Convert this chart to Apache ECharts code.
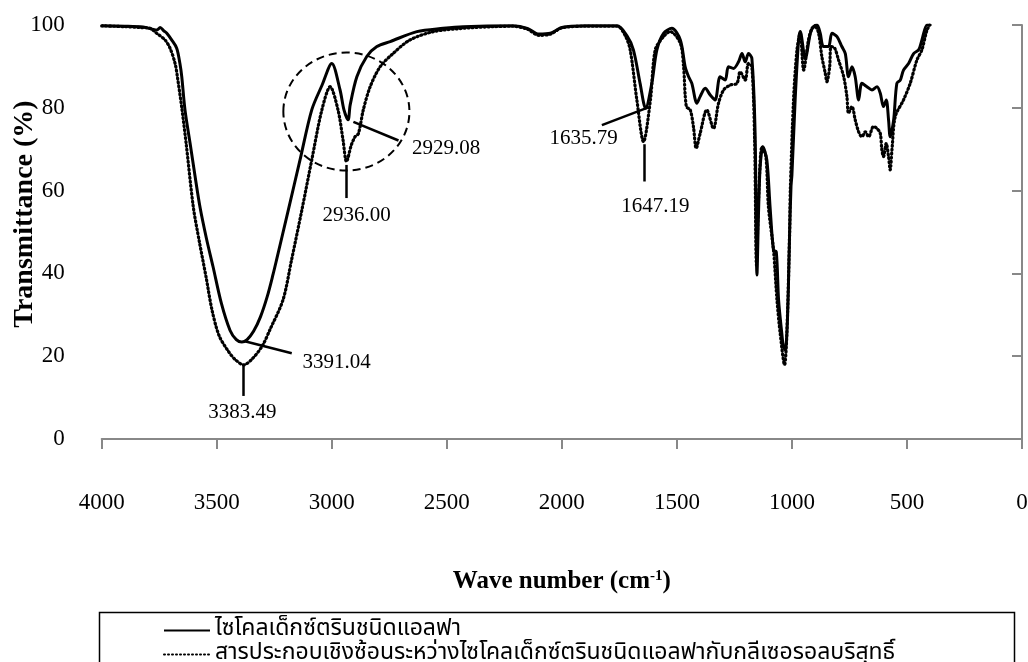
<!DOCTYPE html>
<html>
<head>
<meta charset="utf-8">
<script src="https://cdn.jsdelivr.net/npm/echarts@6/dist/echarts.min.js"></script>
<style>html,body{margin:0;padding:0;background:#fff;}#c{width:1028px;height:662px;}</style>
</head>
<body>
<div id="c"></div>
<script>
// ---- data (wave number cm-1, transmittance %) ----
const solidName = 'ไซโคลเด็กซ์ตรินชนิดแอลฟา';
const dottedName = 'สารประกอบเชิงซ้อนระหว่างไซโคลเด็กซ์ตรินชนิดแอลฟากับกลีเซอรอลบริสุทธิ์';

const solidWn = [4000,3900,3820,3780,3760,3746,3730,3717,3696,3674,3660,3652,3638,3616,3594,3573,3545,3516,3480,3442,3415,3391,3368,3340,3310,3280,3255,3239,3189,3138,3087,3042,3000,2964,2947,2929,2920,2891,2848,2804,2746,2630,2516,2429,2212,2150,2100,2050,2000,1900,1760,1718,1689,1660,1636,1609,1587,1558,1522,1485,1464,1449,1435,1413,1399,1377,1355,1334,1312,1290,1276,1254,1232,1217,1203,1189,1174,1160,1152,1145,1138,1126,1109,1095,1080,1068,1058,1044,1037,1029,1019,1010,1004,1000,986,971,964,942,920,906,891,877,863,841,826,804,783,768,754,739,725,710,696,674,652,630,616,602,590,580,573,558,544,529,515,493,471,449,435,413,400];
const solidT  = [99.8,99.7,99.5,99.0,98.8,99.4,98.6,98.0,96.4,94.4,90.7,87.5,79.5,71.5,63.4,56.1,48.5,41.6,32.8,26.2,24.0,23.4,24.0,26.0,29.5,34.5,39.8,43.5,55.3,67.4,79.5,85.5,90.7,84.3,79.5,77.1,80.7,87.5,92.4,94.8,96.0,98.4,99.2,99.6,99.8,99.2,97.8,98.0,99.4,99.8,99.8,97.5,94.0,85.9,79.9,85.9,94.0,98.0,99.2,96.4,89.9,87.5,85.9,81.1,82.7,84.7,83.1,81.9,87.5,86.7,89.9,89.5,91.1,93.1,91.1,93.1,91.9,73.8,39.6,55.0,65.8,70.6,67.4,56.1,45.6,45.2,33.6,25.5,22.3,21.5,29.5,49.7,61.0,63.8,81.9,96.4,98.4,91.9,98.0,99.6,100,98.0,94.8,94.8,98.0,97.2,94.8,93.1,87.5,89.9,87.5,81.9,85.9,85.1,84.3,85.1,83.5,80.3,81.9,77.1,73.0,77.0,85.9,86.7,89.1,90.7,93.1,94.0,96.4,100,100];

const dottedWn = [4000,3900,3833,3790,3761,3725,3703,3681,3671,3652,3633,3602,3575,3546,3520,3490,3451,3420,3383,3345,3302,3268,3212,3175,3130,3087,3043,3007,2973,2951,2936,2915,2899,2884,2863,2833,2790,2732,2660,2558,2429,2300,2212,2150,2100,2050,2000,1900,1760,1725,1703,1674,1645,1615,1594,1558,1529,1485,1471,1459,1442,1428,1416,1399,1370,1341,1319,1297,1268,1239,1225,1203,1189,1174,1162,1154,1145,1130,1113,1102,1080,1065,1051,1032,1022,1010,1007,993,978,964,949,928,913,899,884,870,855,848,836,830,815,797,775,761,754,739,725,710,696,681,667,645,630,616,609,602,590,580,573,565,551,515,486,457,435,413,400];
const dottedT  = [99.8,99.6,99.4,99.2,98.0,96.4,94.4,90.7,87.5,80.0,71.4,56.1,47.5,39.0,31.0,25.0,21.3,19.2,17.9,19.4,22.5,26.5,33.6,43.2,55.3,67.4,79.5,85.1,79.5,72.2,67.0,71.0,73.0,73.8,79.5,85.1,89.9,93.2,96.4,98.4,99.2,99.6,99.7,99.0,97.5,97.8,99.3,99.7,99.7,97.5,94.0,81.9,71.8,81.9,94.0,97.2,98.4,95.6,90.0,80.3,79.5,75.4,70.2,73.8,79.5,75.0,81.1,84.3,85.5,85.9,88.7,86.7,90.7,89.9,72.0,42.0,58.0,70.6,68.2,56.0,45.6,33.6,25.5,17.9,25.5,50.0,60.0,81.9,94.0,98.0,89.1,96.4,99.2,99.6,98.0,92.4,88.3,86.3,89.9,94.8,94.5,91.5,87.5,82.7,78.7,80.3,77.1,74.2,73.0,74.2,73.0,75.5,75.0,73.8,69.8,68.2,71.4,68.2,65.0,70.0,77.9,81.9,85.9,91.5,94.0,98.8,100];

// peak annotations
const peakLabels = ['3383.49','3391.04','2936.00','2929.08','1635.79','1647.19'];
const labelWn   = [3389, 2979, 2892, 2503, 1905, 1594];
const labelT    = [6.3, 18.4, 54.1, 70.2, 72.6, 56.1];
const leaderFrom = [[3383,17.9],[3378,23.6],[2936,66.2],[2906,76.6],[1624,80.1],[1640,71.2]];
const leaderTo   = [[3383,10.4],[3174,20.7],[2936,58.2],[2710,72.1],[1826,75.8],[1640,62.2]];
const circleCenter = [2936.5, 79.1];
const circleRadius = [274, 14.25];

const xTicks = {min:0, max:4000, interval:500};
const yTicks = {min:0, max:100, interval:20};

// ---- chart ----
const zip = (a,b) => a.map((v,i)=>[v,b[i]]);
const serif = '"Liberation Serif","Times New Roman",serif';
const thai = '"Noto Sans Thai","Noto Serif Thai","Loma","Garuda","Norasi","Tlwg Typo",serif';
const chart = echarts.init(document.getElementById('c'), null, {renderer:'canvas'});
const axisGray = '#888888';
const legendBase = {
  orient:'horizontal', left:158, itemGap:0, itemWidth:46, itemHeight:14,
  itemStyle:{color:'rgba(0,0,0,0)', borderWidth:0},
  textStyle:{fontFamily:thai, fontSize:23, color:'#000'}
};

const option = {
  animation:false,
  backgroundColor:'#fff',
  grid:{left:101.7, right:6, top:25, bottom:223, containLabel:false, outerBoundsMode:'none'},
  xAxis:{
    type:'value', inverse:true, min:xTicks.min, max:xTicks.max, interval:xTicks.interval,
    axisLine:{show:true, lineStyle:{color:axisGray, width:2}},
    axisTick:{show:true, inside:false, length:10, lineStyle:{color:axisGray, width:2}},
    axisLabel:{color:'#000', fontFamily:serif, fontSize:23, margin:52, formatter:(v)=>String(v)},
    splitLine:{show:false},
    name:'{a|Wave number (cm}{s|-1}{a|)}', nameLocation:'middle', nameGap:130, nameMoveOverlap:false,
    nameTextStyle:{rich:{
      a:{fontFamily:serif, fontWeight:'bold', fontSize:25, color:'#000'},
      s:{fontFamily:serif, fontWeight:'bold', fontSize:15, color:'#000', verticalAlign:'top', padding:[0,0,11,0]}
    }}
  },
  yAxis:{
    type:'value', min:yTicks.min, max:yTicks.max, interval:yTicks.interval,
    axisLine:{show:true, lineStyle:{color:axisGray, width:2}},
    axisTick:{show:true, inside:false, length:10, lineStyle:{color:axisGray, width:2}},
    axisLabel:{color:'#000', fontFamily:serif, fontSize:23, margin:37, formatter:(v)=>String(v)},
    splitLine:{show:false},
    name:'Transmittance (%)', nameLocation:'middle', nameGap:63, nameRotate:90, nameMoveOverlap:false,
    nameTextStyle:{fontFamily:serif, fontWeight:'bold', fontSize:28, color:'#000', padding:[0,0,0,36]}
  },
  legend:[
    Object.assign({}, legendBase, {top:614, data:[solidName]}),
    Object.assign({}, legendBase, {top:638, data:[dottedName]})
  ],
  series:[
    {
      name:solidName, type:'line', data:zip(solidWn, solidT), showSymbol:false, symbol:'none',
      smooth:0.3, clip:true,
      itemStyle:{color:'#000'},
      lineStyle:{color:'#000', width:3}, z:3,
      markLine:{
        silent:true, symbol:'none', animation:false,
        lineStyle:{color:'#000', width:2.5, type:'solid'}, label:{show:false},
        data: leaderFrom.map((f,i)=>[{coord:f},{coord:leaderTo[i]}])
      },
      markPoint:{
        silent:true, symbol:'circle', symbolSize:1, itemStyle:{color:'rgba(0,0,0,0)'},
        label:{show:true, position:'inside', color:'#000', fontFamily:serif, fontSize:21},
        data: peakLabels.map((t,i)=>({coord:[labelWn[i], labelT[i]], value:t, label:{formatter:t}}))
      }
    },
    {
      name:dottedName, type:'line', data:zip(dottedWn, dottedT), showSymbol:false, symbol:'none',
      smooth:0.3, clip:true,
      itemStyle:{color:'#000'},
      lineStyle:{color:'#000', width:3.2, type:[1,3], cap:'round'}, z:2
    }
  ]
};
chart.setOption(option);

const c = chart.convertToPixel({gridIndex:0}, circleCenter);
const r = chart.convertToPixel({gridIndex:0}, [circleCenter[0]-circleRadius[0], circleCenter[1]+circleRadius[1]]);
chart.setOption({
  graphic:[
    {type:'ellipse', shape:{cx:c[0], cy:c[1], rx:Math.abs(r[0]-c[0]), ry:Math.abs(r[1]-c[1])},
     style:{fill:'none', stroke:'#000', lineWidth:2, lineDash:[8,5]}, z:10, silent:true},
    {type:'rect', left:97, top:610, shape:{width:915, height:80},
     style:{fill:'none', stroke:'#000', lineWidth:1.5}, z:10, silent:true}
  ]
});
</script>
</body>
</html>
